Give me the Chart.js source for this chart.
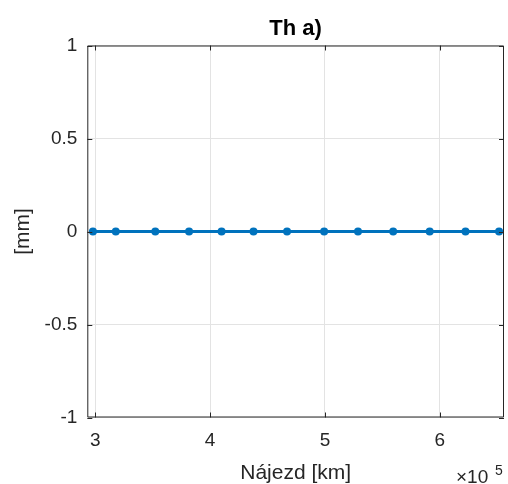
<!DOCTYPE html>
<html>
<head>
<meta charset="utf-8">
<script src="https://cdn.jsdelivr.net/npm/chart.js@4.4.1/dist/chart.umd.min.js"></script>
<style>
  html, body { margin: 0; padding: 0; background: #fff; }
  #wrap { width: 508px; height: 484px; }
</style>
</head>
<body>
<div id="wrap"><canvas id="grafico" width="508" height="484"></canvas></div>
<script>
// najezd v km a namerena hodnota v mm
const najezd = [298000, 317900, 352300, 381700, 410000, 437800, 467000, 499300, 528800, 559400, 591200, 622400, 651600];
const hodnoty = [0, 0, 0, 0, 0, 0, 0, 0, 0, 0, 0, 0, 0];
const xTicks = [300000, 400000, 500000, 600000];
const yTicks = [-1, -0.5, 0, 0.5, 1];

const pismo = '"Liberation Sans", Arial, Helvetica, sans-serif';
const barvaOsy = '#262626';

// popisky, ramecek a kratke vnitrni carky jako v matlabu
const popisky = {
  id: 'popisky',
  afterDraw(chart) {
    const ctx = chart.ctx;
    const a = chart.chartArea;
    const sx = chart.scales.x, sy = chart.scales.y;
    ctx.save();
    ctx.strokeStyle = barvaOsy;
    ctx.lineWidth = 1;
    ctx.beginPath();
    ctx.rect(a.left + 0.5, a.top + 0.5, a.right - a.left - 1, a.bottom - a.top - 1);
    ctx.stroke();
    const t = 5;
    ctx.beginPath();
    xTicks.forEach(v => {
      const px = Math.round(sx.getPixelForValue(v)) + 0.5;
      ctx.moveTo(px, a.bottom); ctx.lineTo(px, a.bottom - t);
      ctx.moveTo(px, a.top); ctx.lineTo(px, a.top + t);
    });
    yTicks.forEach(v => {
      const py = Math.round(sy.getPixelForValue(v)) + 0.5;
      ctx.moveTo(a.left, py); ctx.lineTo(a.left + t, py);
      ctx.moveTo(a.right, py); ctx.lineTo(a.right - t, py);
    });
    ctx.stroke();

    ctx.fillStyle = '#000';
    ctx.textAlign = 'center';
    ctx.textBaseline = 'alphabetic';
    const stred = (a.left + a.right) / 2;
    ctx.font = 'bold 22px ' + pismo;
    ctx.fillText('Th a)', stred, 35);

    ctx.fillStyle = barvaOsy;
    ctx.font = '21px ' + pismo;
    ctx.fillText('Nájezd [km]', stred, 479);

    ctx.save();
    ctx.translate(29, (a.top + a.bottom) / 2);
    ctx.rotate(-Math.PI / 2);
    ctx.fillText('[mm]', 0, 0);
    ctx.restore();

    ctx.textAlign = 'left';
    ctx.font = '19px ' + pismo;
    ctx.fillText('\u00d710', 456, 483);
    ctx.font = '14px ' + pismo;
    ctx.fillText('5', 495, 475);
    ctx.restore();
  }
};

new Chart(document.getElementById('grafico').getContext('2d'), {
  type: 'line',
  data: {
    datasets: [{
      data: najezd.map((x, i) => ({ x, y: hodnoty[i] })),
      borderColor: '#0072BD',
      backgroundColor: '#0072BD',
      borderWidth: 3,
      pointRadius: 4,
      pointBorderWidth: 0,
      pointHoverRadius: 4,
      clip: false
    }]
  },
  options: {
    responsive: false,
    animation: false,
    layout: { padding: { left: 0, right: 2.5, top: 45.5, bottom: 0 } },
    plugins: { legend: { display: false }, tooltip: { enabled: false }, title: { display: false } },
    scales: {
      x: {
        type: 'linear',
        min: 293100,
        max: 655900,
        afterFit: s => { s.height = 66.5; },
        afterBuildTicks: s => { s.ticks = xTicks.map(v => ({ value: v })); },
        grid: { color: '#e3e3e3', drawTicks: false },
        border: { display: false },
        ticks: {
          padding: 12,
          color: barvaOsy,
          font: { family: pismo, size: 19 },
          callback: v => String(v / 100000)
        }
      },
      y: {
        min: -1,
        max: 1,
        afterFit: s => { s.width = 87.3; },
        afterBuildTicks: s => { s.ticks = yTicks.map(v => ({ value: v })); },
        grid: { color: '#e3e3e3', drawTicks: false },
        border: { display: false },
        ticks: {
          padding: 10,
          color: barvaOsy,
          font: { family: pismo, size: 19 },
          callback: v => String(v)
        }
      }
    }
  },
  plugins: [popisky]
});
</script>
</body>
</html>
